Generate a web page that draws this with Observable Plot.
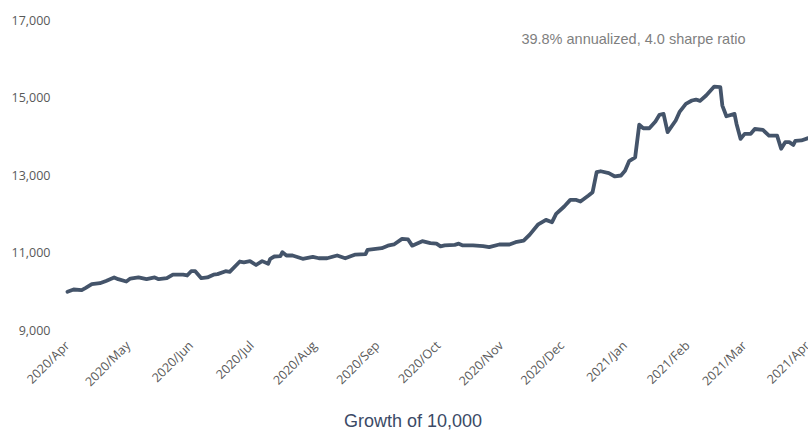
<!DOCTYPE html>
<html>
<head>
<meta charset="utf-8">
<script src="https://cdn.jsdelivr.net/npm/d3@7"></script>
<script src="https://cdn.jsdelivr.net/npm/@observablehq/plot@0.6"></script>
<style>
  body { margin: 0; background: #fff; }
  #chart { position: relative; width: 808px; height: 431px; overflow: hidden; }
  #title { position: absolute; top: 411px; left: 0; width: 826px; text-align: center;
           font-family: "Liberation Sans", Arial, sans-serif; font-size: 18px; color: #3b4a66; }
</style>
</head>
<body>
<div id="chart"><div id="title">Growth of 10,000</div></div>
<script>
const dates = [
  "2020-04-01","2020-04-04","2020-04-08","2020-04-10","2020-04-13","2020-04-17","2020-04-20","2020-04-24",
  "2020-04-26","2020-04-30","2020-05-02","2020-05-06","2020-05-10","2020-05-14","2020-05-16","2020-05-20",
  "2020-05-23","2020-05-28","2020-05-30","2020-06-01","2020-06-03","2020-06-06","2020-06-09","2020-06-12",
  "2020-06-14","2020-06-18","2020-06-20","2020-06-25","2020-06-27","2020-06-30","2020-07-03","2020-07-06",
  "2020-07-09","2020-07-10","2020-07-12","2020-07-15","2020-07-16","2020-07-18","2020-07-21","2020-07-26",
  "2020-07-31","2020-08-03","2020-08-07","2020-08-12","2020-08-16","2020-08-21","2020-08-26","2020-08-27",
  "2020-09-03","2020-09-06","2020-09-09","2020-09-13","2020-09-16","2020-09-18","2020-09-23","2020-09-27",
  "2020-09-30","2020-10-02","2020-10-04","2020-10-09","2020-10-11","2020-10-13","2020-10-18","2020-10-23",
  "2020-10-26","2020-10-31","2020-11-05","2020-11-08","2020-11-12","2020-11-15","2020-11-19","2020-11-23",
  "2020-11-26","2020-11-28","2020-12-02","2020-12-05","2020-12-08","2020-12-10","2020-12-14","2020-12-16",
  "2020-12-18","2020-12-20","2020-12-24","2020-12-27","2020-12-30","2021-01-01","2021-01-03","2021-01-06",
  "2021-01-08","2021-01-10","2021-01-13","2021-01-16","2021-01-18","2021-01-20","2021-01-22","2021-01-26",
  "2021-01-28","2021-01-31","2021-02-03","2021-02-05","2021-02-07","2021-02-10","2021-02-14","2021-02-17",
  "2021-02-18","2021-02-20","2021-02-24","2021-02-25","2021-02-27","2021-03-01","2021-03-04","2021-03-06",
  "2021-03-10","2021-03-13","2021-03-17","2021-03-19","2021-03-21","2021-03-23","2021-03-25","2021-03-26",
  "2021-03-29","2021-04-01"
];
const growth = [
  10000,10058,10040,10100,10195,10220,10280,10370,
  10325,10265,10340,10370,10325,10370,10325,10350,
  10440,10440,10420,10530,10530,10350,10370,10440,
  10455,10530,10515,10780,10760,10790,10690,10790,
  10720,10850,10910,10920,11020,10935,10935,10850,
  10900,10865,10865,10935,10865,10960,10970,11080,
  11125,11190,11220,11365,11350,11190,11305,11255,
  11240,11170,11195,11210,11240,11195,11195,11180,
  11150,11220,11220,11280,11320,11475,11730,11855,
  11795,12010,12200,12370,12370,12330,12485,12570,
  13085,13110,13060,12975,13000,13120,13370,13470,
  14310,14220,14220,14395,14565,14590,14120,14420,
  14650,14850,14935,14960,14925,15065,15295,15280,
  14805,14530,14590,14330,13945,14075,14075,14200,
  14175,14030,14030,13690,13860,13860,13790,13895,
  13905,13960
];
const yTicks = [9000, 11000, 13000, 15000, 17000];
const monthTicks = [
  "2020-04-01","2020-05-01","2020-06-01","2020-07-01","2020-08-01","2020-09-01","2020-10-01",
  "2020-11-01","2020-12-01","2021-01-01","2021-02-01","2021-03-01","2021-04-01"
];
const annotation = "39.8% annualized, 4.0 sharpe ratio";

const data = dates.map((d, i) => ({date: new Date(d), value: growth[i]}));
const fmtMonth = d3.utcFormat("%Y/%b");

const chart = Plot.plot({
  width: 808,
  height: 400,
  marginLeft: 67,
  marginRight: 1,
  marginTop: 20,
  marginBottom: 70,
  style: {fontFamily: "'Open Sans', sans-serif", fontSize: "12.5px", color: "#595959", background: "transparent"},
  x: {type: "utc", domain: [new Date(monthTicks[0]), new Date(monthTicks[monthTicks.length - 1])]},
  y: {domain: [9000, 17000]},
  marks: [
    Plot.axisY({ticks: yTicks, tickFormat: d3.format(","), tickSize: 0, tickPadding: 17, label: null}),
    Plot.axisX({ticks: monthTicks.map(d => new Date(d)), tickFormat: fmtMonth, tickRotate: -45,
                tickSize: 0, tickPadding: 13, label: null}),
    Plot.line(data, {x: "date", y: "value", stroke: "#44546A", strokeWidth: 3.8,
                     strokeLinejoin: "round", strokeLinecap: "round"}),
    Plot.text([annotation], {text: d => d, frameAnchor: "top-right", dx: -62, dy: 13,
                             fontFamily: "'Liberation Sans', Arial, sans-serif", fontSize: 14.5,
                             fill: "#7f7f7f"})
  ]
});
chart.style.position = "absolute";
chart.style.left = "0";
chart.style.top = "0";
document.getElementById("chart").appendChild(chart);
</script>
</body>
</html>
